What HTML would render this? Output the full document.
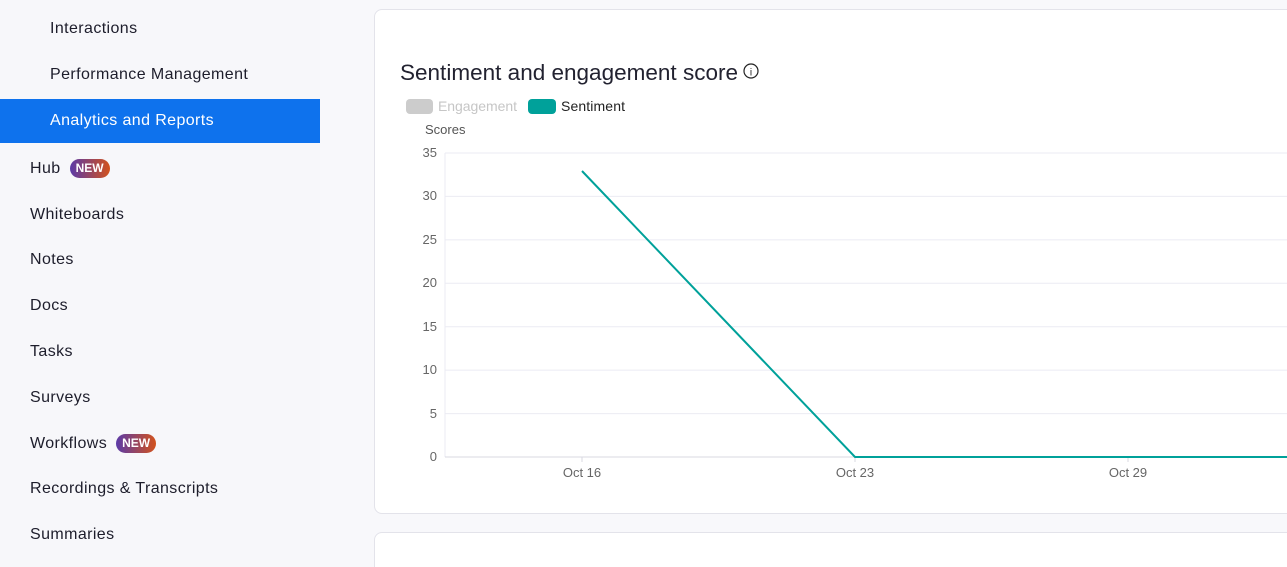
<!DOCTYPE html>
<html style="height:567px;overflow:hidden"><head><style>
body{margin:0;width:1287px;height:567px;overflow:hidden;background:#f8f8fb;font-family:"Liberation Sans",sans-serif;position:relative}
.sb{position:absolute;left:0;top:0;width:320px;height:567px;background:#f7f7fa}
.it{position:absolute;left:30px;font-size:16px;letter-spacing:0.4px;color:#1d1d2b;line-height:20px}
.sub{left:50px}
.act{position:absolute;left:0;top:99px;width:320px;height:44px;background:#0e72ed}
.new{display:inline-block;margin-left:9px;background:linear-gradient(90deg,#5b3aa8,#d2521c);color:#fff;font-size:12px;letter-spacing:0;font-weight:bold;border-radius:10px;padding:1px 6px;line-height:17px;vertical-align:1px}
.card{position:absolute;left:374px;top:9px;width:930px;height:503px;background:#fff;border:1px solid #e3e3ea;border-radius:8px}
.card2{position:absolute;left:374px;top:532px;width:930px;height:60px;background:#fff;border:1px solid #e3e3ea;border-radius:8px}
</style></head><body>
<div class="sb"></div>
<div class="act"></div>
<div class="it sub" style="top:19px">Interactions</div>
<div class="it sub" style="top:65px">Performance Management</div>
<div class="it sub" style="top:111px;color:#fff">Analytics and Reports</div>
<div class="it" style="top:159px">Hub<span class="new">NEW</span></div>
<div class="it" style="top:205px">Whiteboards</div>
<div class="it" style="top:250px">Notes</div>
<div class="it" style="top:296px">Docs</div>
<div class="it" style="top:342px">Tasks</div>
<div class="it" style="top:388px">Surveys</div>
<div class="it" style="top:434px">Workflows<span class="new">NEW</span></div>
<div class="it" style="top:479px">Recordings &amp; Transcripts</div>
<div class="it" style="top:525px">Summaries</div>
<div class="card"></div>
<div class="card2"></div>
<svg style="position:absolute;left:0;top:0" width="1287" height="567">
<text x="400" y="80" font-size="22.5" fill="#222230" font-family="Liberation Sans" textLength="338">Sentiment and engagement score</text>
<circle cx="751" cy="71" r="7" fill="none" stroke="#222" stroke-width="1.2"/>
<text x="751" y="75.5" font-size="10" text-anchor="middle" fill="#222">i</text>
<rect x="406" y="99" width="27" height="15" rx="4" fill="#cccccc"/>
<text x="438" y="111" font-size="14" fill="#c6c6c6" textLength="79">Engagement</text>
<rect x="528" y="99" width="28" height="15" rx="4" fill="#00a19a"/>
<text x="561" y="111" font-size="14" fill="#222" textLength="64">Sentiment</text>
<text x="425" y="134" font-size="13" fill="#555">Scores</text>
<g stroke="#ebebf3" stroke-width="1">
<line x1="445" y1="153" x2="1287" y2="153"/><line x1="445" y1="196.4" x2="1287" y2="196.4"/>
<line x1="445" y1="239.9" x2="1287" y2="239.9"/><line x1="445" y1="283.3" x2="1287" y2="283.3"/>
<line x1="445" y1="326.7" x2="1287" y2="326.7"/><line x1="445" y1="370.1" x2="1287" y2="370.1"/>
<line x1="445" y1="413.6" x2="1287" y2="413.6"/><line x1="445" y1="153" x2="445" y2="457"/>
</g>
<line x1="445" y1="457" x2="1287" y2="457" stroke="#d8d8e2"/>
<g font-size="13" fill="#666" text-anchor="end">
<text x="437" y="157">35</text><text x="437" y="200">30</text><text x="437" y="244">25</text>
<text x="437" y="287">20</text><text x="437" y="331">15</text><text x="437" y="374">10</text>
<text x="437" y="418">5</text><text x="437" y="461">0</text></g>
<g font-size="13" fill="#666" text-anchor="middle">
<text x="582" y="477">Oct 16</text><text x="855" y="477">Oct 23</text><text x="1128" y="477">Oct 29</text></g>
<g stroke="#d8d8e2"><line x1="582" y1="457" x2="582" y2="462"/><line x1="855" y1="457" x2="855" y2="462"/><line x1="1128" y1="457" x2="1128" y2="462"/></g>
<polyline points="582,171 855,457 1287,457" fill="none" stroke="#00a19a" stroke-width="2"/>
</svg>
</body></html>
